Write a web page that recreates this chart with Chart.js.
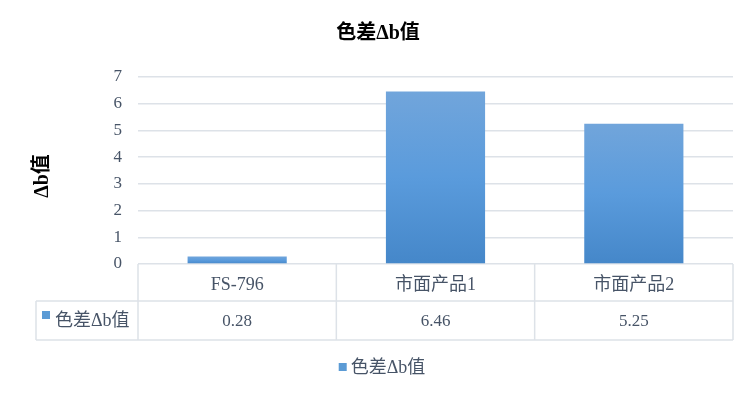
<!DOCTYPE html>
<html><head><meta charset="utf-8">
<script src="https://cdn.jsdelivr.net/npm/chart.js@4/dist/chart.umd.min.js"></script>
<style>html,body{margin:0;padding:0;background:#fff}#wrap{width:756px;height:397px}</style>
</head><body><div id="wrap"><canvas id="c" width="756" height="397"></canvas></div>
<script>
const categories = ['FS-796', '市面产品1', '市面产品2'];
const values = [0.28, 6.46, 5.25];
const valueLabels = ['0.28', '6.46', '5.25'];
const seriesName = '色差Δb值';
const chartTitle = '色差Δb值';
const yTitle = 'Δb值';

const TXT = '#475467';
const GRID = '#dde2e8';
const FONT = '"Liberation Serif", "Noto Sans CJK SC", serif';

function barFill(ctx) {
  const chart = ctx.chart;
  if (!chart.chartArea) return '#5b9bd5';
  const y = chart.scales.y;
  const top = y.getPixelForValue(ctx.raw), base = y.getPixelForValue(0);
  const g = chart.ctx.createLinearGradient(0, top, 0, base);
  g.addColorStop(0, '#71a5db');
  g.addColorStop(0.5, '#5a9bdc');
  g.addColorStop(1, '#4587c9');
  return g;
}

const tablePlugin = {
  id: 'tablePlugin',
  afterDraw(chart) {
    const c = chart.ctx, x = chart.scales.x, area = chart.chartArea;
    const half = (x.getPixelForValue(1) - x.getPixelForValue(0)) / 2;
    const top = area.bottom, mid = area.bottom + 37, bot = area.bottom + 76, leftCol = 36;
    c.save();
    c.strokeStyle = GRID; c.lineWidth = 1.5;
    c.beginPath();
    c.moveTo(leftCol, mid); c.lineTo(area.right, mid);
    c.moveTo(leftCol, bot); c.lineTo(area.right, bot);
    c.moveTo(leftCol, mid); c.lineTo(leftCol, bot);
    for (let i = 0; i <= categories.length; i++) {
      const px = x.getPixelForValue(i) - half;
      c.moveTo(px, top); c.lineTo(px, bot);
    }
    c.stroke();
    // values row
    c.fillStyle = TXT; c.font = '17px ' + FONT; c.textAlign = 'center'; c.textBaseline = 'middle';
    valueLabels.forEach((v, i) => c.fillText(v, x.getPixelForValue(i), (mid + bot) / 2 + 1));
    // row label
    c.fillStyle = '#5b9bd5'; c.fillRect(42, 311, 8, 8);
    c.fillStyle = TXT; c.font = '18px ' + FONT; c.textAlign = 'left';
    c.fillText(seriesName, 55, (mid + bot) / 2 + 1);
    // legend
    const w = c.measureText(seriesName).width;
    const lx = 382 - (w + 12) / 2;
    c.fillStyle = '#5b9bd5'; c.fillRect(lx, 363, 8, 8);
    c.fillStyle = TXT; c.fillText(seriesName, lx + 12, 368);
    // title
    c.fillStyle = '#000'; c.font = 'bold 20px ' + FONT; c.textAlign = 'center';
    c.fillText(chartTitle, 378, 34);
    // y title
    c.translate(43, 176); c.rotate(-Math.PI / 2);
    c.font = 'bold 20px ' + FONT;
    c.fillText(yTitle, 0, 0);
    c.restore();
  }
};

new Chart(document.getElementById('c'), {
  type: 'bar',
  data: {
    labels: categories,
    datasets: [{ label: seriesName, data: values, backgroundColor: barFill,
      barPercentage: 0.5, categoryPercentage: 1.0 }]
  },
  options: {
    responsive: false, animation: false,
    layout: { padding: { top: 77, right: 23, bottom: 57, left: 0 } },
    plugins: { legend: { display: false }, title: { display: false }, tooltip: { enabled: false } },
    scales: {
      y: {
        min: 0, max: 7,
        ticks: { stepSize: 1, color: TXT, font: { family: FONT, size: 17 }, padding: 16 },
        grid: { color: GRID, lineWidth: 1.5, drawTicks: false },
        border: { display: false },
        afterFit(s) { s.width = 138; }
      },
      x: {
        ticks: { color: TXT, font: { family: FONT, size: 18 }, padding: 2 },
        grid: { display: false },
        border: { display: false },
        afterFit(s) { s.height = 76; }
      }
    }
  },
  plugins: [tablePlugin]
});
</script></body></html>
